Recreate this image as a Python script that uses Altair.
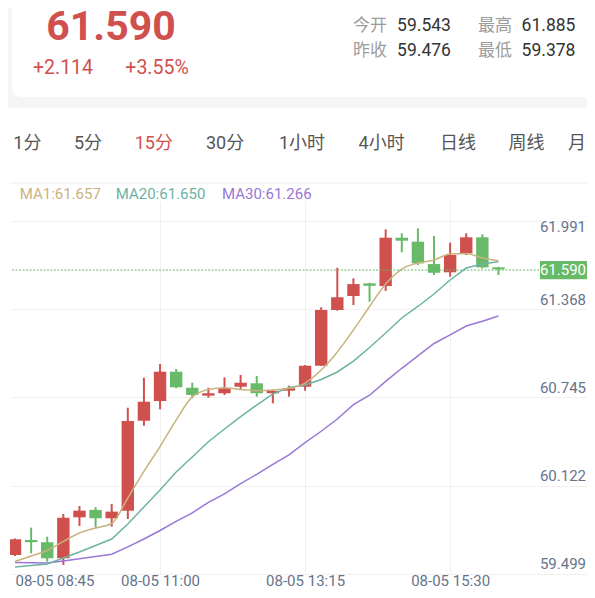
import altair as alt
import pandas as pd

# ---------------- data ----------------
idx = list(range(31))  # 15-minute candles, 0 = 08-05 08:45
opens = [59.580, 59.686, 59.670, 59.557, 59.846, 59.898, 59.839, 59.893, 60.527, 60.666,
         60.873, 60.760, 60.704, 60.721, 60.767, 60.791, 60.721, 60.739, 60.767, 60.915,
         61.308, 61.407, 61.496, 61.477, 61.818, 61.790, 61.632, 61.574, 61.708, 61.821, 61.609]
closes = [59.691, 59.670, 59.557, 59.843, 59.893, 59.839, 59.886, 60.525, 60.661, 60.873,
          60.763, 60.709, 60.721, 60.756, 60.795, 60.721, 60.737, 60.756, 60.915, 61.308,
          61.398, 61.491, 61.479, 61.818, 61.797, 61.637, 61.571, 61.696, 61.821, 61.609, 61.595]
highs = [59.697, 59.773, 59.709, 59.869, 59.926, 59.917, 59.940, 60.619, 60.831, 60.927,
         60.892, 60.795, 60.760, 60.833, 60.850, 60.843, 60.744, 60.774, 60.920, 61.327,
         61.606, 61.532, 61.501, 61.877, 61.849, 61.884, 61.830, 61.783, 61.849, 61.842, 61.613]
lows = [59.573, 59.592, 59.533, 59.510, 59.785, 59.776, 59.780, 59.834, 60.492, 60.608,
        60.756, 60.685, 60.690, 60.709, 60.749, 60.697, 60.650, 60.697, 60.739, 60.913,
        61.303, 61.343, 61.367, 61.442, 61.715, 61.625, 61.555, 61.543, 61.696, 61.602, 61.555]
ma1 = [59.534, 59.573, 59.612, 59.676, 59.735, 59.771, 59.802, 59.982, 60.170, 60.345,
       60.532, 60.695, 60.747, 60.760, 60.747, 60.739, 60.744, 60.756, 60.793, 60.885,
       61.012, 61.167, 61.333, 61.491, 61.597, 61.640, 61.661, 61.703, 61.707, 61.675, 61.656]
ma20 = [59.496, 59.506, 59.517, 59.559, 59.601, 59.647, 59.693, 59.799, 59.919, 60.039,
        60.166, 60.271, 60.379, 60.469, 60.556, 60.638, 60.716, 60.762, 60.779, 60.818,
        60.871, 60.948, 61.044, 61.146, 61.252, 61.333, 61.421, 61.520, 61.604, 61.632, 61.649]
ma30 = [59.527, 59.525, 59.524, 59.538, 59.554, 59.570, 59.585, 59.637, 59.693, 59.753,
        59.817, 59.877, 59.951, 60.011, 60.084, 60.149, 60.220, 60.286, 60.372, 60.453,
        60.539, 60.640, 60.707, 60.805, 60.897, 60.984, 61.072, 61.133, 61.195, 61.229, 61.266]

y_label_values = [59.499, 60.122, 60.745, 61.368, 61.991]
grid_values = [59.446, 60.069, 60.692, 61.315, 61.938]
x_tick_index = [0, 9, 18, 27]
x_tick_labels = ["08-05 08:45", "08-05 11:00", "08-05 13:15", "08-05 15:30"]
last_price = 61.590
last_price_text = "61.590"

header_price = "61.590"
header_change = ["+2.114", "+3.55%"]
stat_names = ["今开", "最高", "昨收", "最低"]
stat_values = ["59.543", "61.885", "59.476", "59.378"]
tabs = ["1分", "5分", "15分", "30分", "1小时", "4小时", "日线", "周线", "月"]
active_tab = "15分"
legend_texts = ["MA1:61.657", "MA20:61.650", "MA30:61.266"]

# ---------------- style ----------------
FONT = "Roboto, 'Noto Sans CJK SC', sans-serif"
RED = "#d0504e"
GREEN = "#68b968"
C_MA1 = "#c9b27e"
C_MA20 = "#6cb3a4"
C_MA30 = "#9a77d6"
AXIS_TXT = "#66738a"
GRID = "#f0f0f0"

W, H = 577, 373
xs = alt.Scale(domain=[0, 577 / 16.4], nice=False, zero=False)
ys = alt.Scale(domain=[59.446, 62.077], nice=False, zero=False)

expr = "''"
for kk, lab in reversed(list(zip(x_tick_index, x_tick_labels))):
    expr = f"datum.value == {kk} ? '{lab}' : ({expr})"

x_axis = alt.Axis(values=x_tick_index, labelExpr=expr, title=None, grid=True,
                  gridColor={"condition": {"test": "datum.value == 0", "value": "transparent"}, "value": GRID},
                  labelAlign={"condition": {"test": "datum.value == 0", "value": "left"}, "value": "center"},
                  labelBaseline="alphabetic",
                  ticks=False, tickSize=0, domain=False, labelPadding=11.5,
                  labelFontSize=15, labelColor=AXIS_TXT, labelFont=FONT)
y_axis = alt.Axis(values=grid_values, title=None, labels=False, ticks=False, domain=False,
                  grid=True, gridColor=GRID)

df = pd.DataFrame({"k": idx, "open": opens, "close": closes, "high": highs, "low": lows,
                   "ma1": ma1, "ma20": ma20, "ma30": ma30})
df["dir"] = ["up" if c >= o else "down" for o, c in zip(opens, closes)]

X = alt.X("k:Q", scale=xs, axis=x_axis)
col = alt.Color("dir:N", scale=alt.Scale(domain=["up", "down"], range=[RED, GREEN]), legend=None)

base = alt.Chart(df)
wicks = base.mark_rule(strokeWidth=2, clip=True).encode(
    x=X, y=alt.Y("low:Q", scale=ys, axis=y_axis), y2="high:Q", color=col)
bodies = base.mark_bar(size=12.4, clip=True).encode(
    x=X, y=alt.Y("open:Q", scale=ys, axis=y_axis), y2="close:Q", color=col)


def ma_line(field, color, interp):
    return base.mark_line(color=color, strokeWidth=1.5, interpolate=interp, clip=True).encode(
        x=X, y=alt.Y(f"{field}:Q", scale=ys, axis=y_axis))


l1 = ma_line("ma1", C_MA1, "monotone")
l20 = ma_line("ma20", C_MA20, "linear")
l30 = ma_line("ma30", C_MA30, "linear")

pdf = pd.DataFrame({"p": [last_price], "t": [last_price_text]})
price_line = alt.Chart(pdf).mark_rule(color=GREEN, strokeWidth=1, strokeDash=[2, 1.5]).encode(
    y=alt.Y("p:Q", scale=ys, axis=y_axis), x=alt.value(2), x2=alt.value(530))
price_box = alt.Chart(pdf).mark_tick(orient="horizontal", size=48, thickness=18.3,
                                     color=GREEN, opacity=1).encode(
    y=alt.Y("p:Q", scale=ys, axis=y_axis), x=alt.value(554))
price_txt = alt.Chart(pdf).mark_text(align="right", baseline="middle", color="white",
                                     fontSize=15, font=FONT).encode(
    y=alt.Y("p:Q", scale=ys, axis=y_axis), x=alt.value(576), text="t:N")

top_grid = grid_values[-1]
ylab = pd.DataFrame({"v": y_label_values,
                     "lab": [f"{v:.3f}" for v in y_label_values]})
ylab["pos"] = [v if v <= top_grid else top_grid - 0.059 for v in y_label_values]
y_labels = alt.Chart(ylab).mark_text(align="right", baseline="middle", dy=-2, fontSize=15,
                                     color=AXIS_TXT, font=FONT).encode(
    y=alt.Y("pos:Q", scale=ys, axis=y_axis), x=alt.value(576), text="lab:N")


def one():
    return alt.Chart(pd.DataFrame({"a": [0]}))


def txt(s, x, y, size, color, align="left", baseline="alphabetic", weight="normal"):
    return alt.Chart(pd.DataFrame({"t": [s]})).mark_text(
        align=align, baseline=baseline, fontSize=size, color=color, fontWeight=weight,
        font=FONT).encode(x=alt.value(x), y=alt.value(y), text="t:N")


header_bg = one().mark_rect(color="#f5f5f5").encode(
    x=alt.value(-2), x2=alt.value(577), y=alt.value(-193), y2=alt.value(-93))
card = one().mark_rect(color="white", cornerRadiusBottomLeft=10).encode(
    x=alt.value(2), x2=alt.value(577), y=alt.value(-193), y2=alt.value(-104))
sep = one().mark_rule(color="#eeeeee", strokeWidth=1).encode(
    x=alt.value(0), x2=alt.value(577), y=alt.value(-18))

texts = [
    txt(header_price, 101, -161.5, 41, RED, align="center", weight="bold"),
    txt(header_change[0], 53, -127, 19.5, RED, align="center"),
    txt(header_change[1], 147, -127, 19.5, RED, align="center"),
]
stat_x = [(360, 414), (485, 538.5), (360, 414), (485, 538.5)]
stat_y = [-170, -170, -145, -145]
for nm, val, (xn, xv), yy in zip(stat_names, stat_values, stat_x, stat_y):
    texts.append(txt(nm, xn, yy, 17, "#9c9c9c", align="center"))
    texts.append(txt(val, xv, yy, 17.5, "#333333", align="center"))

tab_x = [3.3, 64, 124.7, 196, 269, 348.6, 430, 498.5, 558]
for t, xx in zip(tabs, tab_x):
    texts.append(txt(t, xx, -57, 18, RED if t == active_tab else "#555555",
                     baseline="middle"))

leg_x = [9.7, 105.7, 212]
for t, xx, c in zip(legend_texts, leg_x, [C_MA1, C_MA20, C_MA30]):
    texts.append(txt(t, xx, -7.5, 15, c, baseline="middle"))

chart = alt.layer(
    header_bg, card, sep, wicks, bodies, l30, l20, l1,
    price_line, price_box, price_txt, y_labels, *texts
).properties(
    width=W, height=H,
    autosize=alt.AutoSizeParams(type="none"),
    padding={"left": 2, "top": 193, "right": 0, "bottom": 16},
    background="white",
).configure_view(stroke=None)

chart.save("out.html", embed_options={"renderer": "svg", "actions": False})
